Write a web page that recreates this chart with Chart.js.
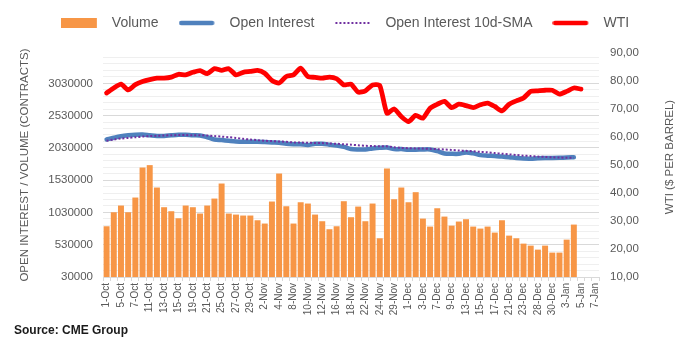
<!DOCTYPE html>
<html><head><meta charset="utf-8">
<script src="https://cdn.jsdelivr.net/npm/chart.js@4.4.1/dist/chart.umd.min.js"></script>
<style>html,body{margin:0;padding:0;background:#fff;}#wrap{width:696px;height:354px;}</style>
</head><body><div id="wrap"><canvas id="c" width="696" height="354"></canvas></div>
<script>
const dates = ['1-Oct','4-Oct','5-Oct','6-Oct','7-Oct','8-Oct','11-Oct','12-Oct','13-Oct','14-Oct','15-Oct','18-Oct','19-Oct','20-Oct','21-Oct','22-Oct','25-Oct','26-Oct','27-Oct','28-Oct','29-Oct',
'1-Nov','2-Nov','3-Nov','4-Nov','5-Nov','8-Nov','9-Nov','10-Nov','11-Nov','12-Nov','15-Nov','16-Nov','17-Nov','18-Nov','19-Nov','22-Nov','23-Nov','24-Nov','26-Nov','29-Nov','30-Nov',
'1-Dec','2-Dec','3-Dec','6-Dec','7-Dec','8-Dec','9-Dec','10-Dec','13-Dec','14-Dec','15-Dec','16-Dec','17-Dec','20-Dec','21-Dec','22-Dec','23-Dec','27-Dec','28-Dec','29-Dec','30-Dec','31-Dec',
'3-Jan','4-Jan','5-Jan','6-Jan','7-Jan'];

const volume = [816000,1033000,1137000,1033000,1261000,1726000,1763000,1416000,1111000,1049000,
940000,1137000,1111000,1013000,1137000,1245000,1478000,1013000,997000,982000,
982000,909000,858000,1199000,1633000,1126000,858000,1188000,1168000,997000,
894000,770000,816000,1204000,956000,1121000,894000,1168000,630000,1711000,
1235000,1416000,1188000,1344000,935000,811000,1095000,966000,826000,889000,
925000,811000,780000,811000,718000,909000,671000,630000,547000,516000,
454000,516000,408000,408000,609000,842000];

const openInterest = [2161000,2187000,2210000,2225000,2235000,2238000,2225000,2213000,2215000,2225000,
2233000,2233000,2225000,2222000,2195000,2161000,2151000,2140000,2130000,2125000,
2125000,2125000,2120000,2114000,2110000,2095000,2088000,2086000,2075000,2094000,
2094000,2080000,2065000,2045000,2013000,2006000,2006000,2021000,2032000,2037000,
2011000,2011000,2001000,2001000,2006000,2006000,1980000,1944000,1938000,1938000,
1960000,1945000,1918000,1910000,1905000,1895000,1885000,1873000,1865000,1863000,
1868000,1872000,1873000,1876000,1882000,1885000];

const oiSma10 = [2140000,2160000,2175000,2185000,2195000,2205000,2212000,2218000,2222000,2227000,
2228000,2228000,2225000,2225000,2222000,2213000,2205000,2195000,2185000,2170000,
2160000,2150000,2140000,2135000,2130000,2125000,2114000,2112000,2110000,2106000,
2104000,2098000,2094000,2086000,2080000,2070000,2063000,2058000,2056000,2054000,
2040000,2030000,2026000,2022000,2020000,2016000,2010000,2006000,1998000,1990000,
1985000,1978000,1968000,1962000,1950000,1940000,1930000,1920000,1910000,1903000,
1895000,1890000,1885000,1880000,1878000,1876000];

const wti = [75.7,77.5,78.9,76.8,78.7,79.8,80.5,81.0,81.0,81.4,
82.4,82.2,83.1,83.7,82.6,84.4,83.8,84.4,82.2,83.1,
83.4,83.8,82.8,80.2,79.3,81.6,82.2,84.6,81.6,81.3,
81.0,81.4,80.8,78.6,78.9,76.0,76.5,78.6,78.4,68.5,
70.0,67.3,65.5,67.7,66.7,70.3,71.7,72.7,70.5,71.7,
71.2,70.5,71.5,72.1,70.9,69.3,71.7,72.9,73.9,76.3,
76.5,76.7,76.7,75.3,76.3,77.5,77.1];

const leftMajorTicks = [30000,530000,1030000,1530000,2030000,2530000,3030000];
const leftMinorStep = 100000;
const leftMin = 30000, leftMax = 3500000;
const rightTicks = [10,20,30,40,50,60,70,80,90];

const FONT = '"Liberation Sans", Arial, sans-serif';
const TXT = '#595959';
const ORANGE = '#F79646', BLUE = '#4F81BD', PURPLE = '#7030A0', RED = '#FF0000';

function icon(kind, color) {
  const c = document.createElement('canvas');
  c.width = 44; c.height = 12;
  const g = c.getContext('2d');
  if (kind === 'rect') { g.fillStyle = color; g.fillRect(0, 1, 36, 10); }
  else if (kind === 'line') { g.strokeStyle = color; g.lineWidth = 4.5; g.lineCap = 'round'; g.beginPath(); g.moveTo(2.5, 6); g.lineTo(33.5, 6); g.stroke(); }
  else { g.fillStyle = color; for (let x = 1; x < 36; x += 4) g.fillRect(x, 5, 2, 2); }
  return c;
}
const icons = [icon('rect', ORANGE), icon('line', BLUE), icon('dot', PURPLE), icon('line', RED)];

const gridVals = [];
for (let v = leftMin; v <= leftMax; v += leftMinorStep) gridVals.push(v);

const legendGap = {
  id: 'legendGap',
  beforeInit(chart) {
    const lg = chart.legend;
    if (!lg || lg._gapPatched) return;
    const f = lg.fit;
    lg.fit = function () { f.call(this); this.height = 48; };
    lg._gapPatched = true;
  },
  afterLayout(chart) {
    const lg = chart.legend;
    if (!lg) return;
    lg.top -= 9; lg.bottom -= 9;
    lg.left -= 5; lg.right -= 5;
  }
};

const rightTitle = {
  id: 'rightTitle',
  afterDraw(chart) {
    const ctx = chart.ctx;
    ctx.save();
    ctx.translate(670, 157);
    ctx.rotate(-Math.PI / 2);
    ctx.font = '11.5px ' + FONT;
    ctx.fillStyle = TXT;
    ctx.textAlign = 'center';
    ctx.textBaseline = 'middle';
    ctx.fillText('WTI ($ PER BARREL)', 0, 0);
    ctx.restore();
  }
};

new Chart(document.getElementById('c'), {
  data: {
    labels: dates,
    datasets: [
      { type: 'bar', label: 'Volume', data: volume, backgroundColor: ORANGE, yAxisID: 'y', order: 4, categoryPercentage: 1, barPercentage: 0.83 },
      { type: 'line', label: 'Open Interest', data: openInterest, borderColor: BLUE, borderWidth: 4.5, pointRadius: 0, tension: 0.3, yAxisID: 'y', order: 3, borderCapStyle: 'round', borderJoinStyle: 'round' },
      { type: 'line', label: 'Open Interest 10d-SMA', data: oiSma10, borderColor: PURPLE, borderWidth: 2, borderDash: [2, 2], pointRadius: 0, tension: 0.3, yAxisID: 'y', order: 2 },
      { type: 'line', label: 'WTI', data: wti, borderColor: RED, borderWidth: 4.8, pointRadius: 0, tension: 0.2, yAxisID: 'y2', order: 1, borderCapStyle: 'round', borderJoinStyle: 'round' }
    ]
  },
  options: {
    responsive: false,
    animation: false,
    events: [],
    devicePixelRatio: 1,
    layout: { padding: { left: 14, right: 10, top: 5, bottom: 10 } },
    plugins: {
      tooltip: { enabled: false },
      legend: {
        position: 'top',
        labels: {
          usePointStyle: true, pointStyleWidth: 44, boxHeight: 12, padding: 20,
          color: TXT, font: { size: 14, family: FONT },
          generateLabels: (chart) => chart.data.datasets.map((d, i) => ({
            text: d.label, pointStyle: icons[i], fillStyle: 'rgba(0,0,0,0)', strokeStyle: 'rgba(0,0,0,0)', lineWidth: 0, hidden: false, datasetIndex: i, fontColor: TXT
          }))
        }
      },
      title: {
        display: true, position: 'bottom', align: 'start', text: 'Source: CME Group',
        color: '#1a1a1a', font: { size: 12, weight: 'bold', family: FONT }, padding: { top: 4, bottom: 6 }
      }
    },
    scales: {
      x: {
        type: 'category', offset: true,
        grid: { offset: true, drawOnChartArea: false, drawTicks: true, tickLength: 4, color: '#D9D9D9' },
        border: { color: '#D9D9D9' },
        ticks: {
          autoSkip: false, maxRotation: 90, minRotation: 90, padding: 2, color: TXT,
          font: { size: 10, family: FONT },
          callback: (v, i) => (i % 2 === 0 ? dates[i] : '')
        },
        afterFit: (s) => { s.height = 42.6; }
      },
      y: {
        position: 'left', min: leftMin, max: leftMax,
        afterBuildTicks: (s) => { s.ticks = gridVals.map((v) => ({ value: v })); },
        ticks: {
          autoSkip: false, color: TXT, padding: 10, font: { size: 11.5, family: FONT },
          callback: (v) => (leftMajorTicks.includes(v) ? String(v) : '')
        },
        grid: {
          drawTicks: false, lineWidth: 1,
          color: (ctx) => (ctx.tick && leftMajorTicks.includes(ctx.tick.value) ? '#D9D9D9' : '#EFEFEF')
        },
        border: { display: false },
        title: { display: true, text: 'OPEN INTEREST / VOLUME (CONTRACTS)', color: TXT, font: { size: 11.5, family: FONT }, padding: { top: 4, bottom: 0 } },
        afterFit: (s) => { s.width = 89; }
      },
      y2: {
        position: 'right', min: 10, max: 90,
        afterBuildTicks: (s) => { s.ticks = rightTicks.map((v) => ({ value: v })); },
        ticks: {
          autoSkip: false, color: TXT, padding: 11, font: { size: 11.5, family: FONT },
          callback: (v) => v.toFixed(2).replace('.', ',')
        },
        grid: { display: false, drawTicks: false },
        border: { display: false },
        afterFit: (s) => { s.width = 87; }
      }
    }
  },
  plugins: [legendGap, rightTitle]
});
</script>
</body></html>
